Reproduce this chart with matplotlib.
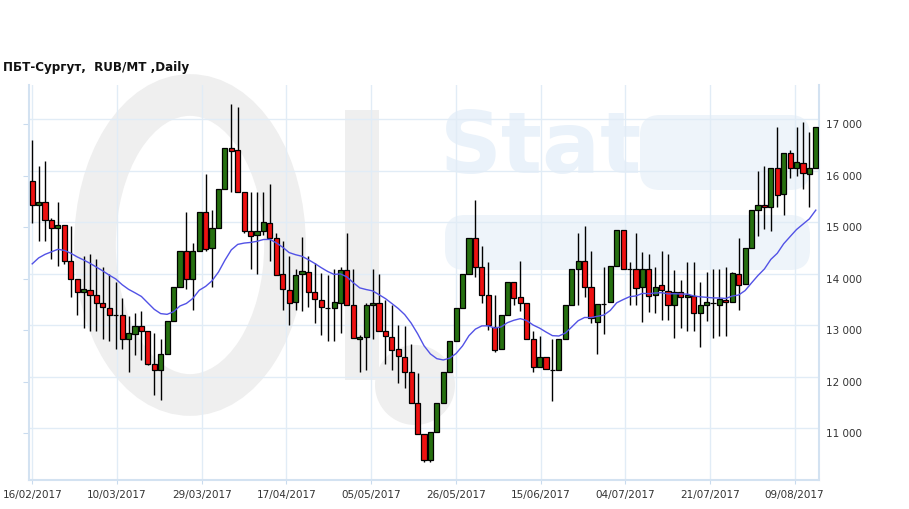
import numpy as np
import matplotlib
matplotlib.use("Agg")
import matplotlib.pyplot as plt
from matplotlib.patches import Ellipse, Rectangle, FancyBboxPatch

title = "ПБТ-Сургут,  RUB/MT ,Daily"
date_labels = ["16/02/2017", "10/03/2017", "29/03/2017", "17/04/2017", "05/05/2017",
               "26/05/2017", "15/06/2017", "04/07/2017", "21/07/2017", "09/08/2017"]

opens = [15900, 15430, 15485, 15135, 14990, 15040, 14340, 13990, 13740, 13775,
         13680, 13525, 13425, 13300, 13290, 12825, 12920, 13080, 12980, 12340,
         12225, 12535, 13175, 13835, 14535, 13990, 14535, 15290, 14590, 14995,
         15740, 16535, 16495, 15680, 14935, 14845, 14935, 15085, 14785, 14085,
         13780, 13540, 14095, 14125, 13740, 13580, 13435, 13440, 13525, 14180,
         13490, 12825, 12875, 13485, 13525, 12980, 12875, 12630, 12475, 12185,
         11580, 10980, 10475, 11030, 11580, 12185, 12785, 13425, 14085, 14785,
         14235, 13680, 13070, 12630, 13290, 13930, 13645, 13525, 12825, 12280,
         12475, 12230, 12220, 12825, 13485, 14185, 14345, 13835, 13170, 13515,
         13540, 14240, 14940, 14185, 14185, 13835, 14185, 13680, 13885, 13770,
         13487, 13748, 13641, 13673, 13330, 13492, 13524, 13492, 13589, 13543,
         14094, 13895, 14592, 15332, 15430, 15388, 16145, 15640, 16436, 16145,
         16242, 16032, 16145]

highs = [16700, 16190, 16290, 15175, 15485, 15050, 15030, 13990, 14440, 14480,
         14380, 14235, 14095, 13940, 13635, 13280, 13330, 13380, 12990, 12940,
         12830, 13175, 13835, 14535, 15290, 14690, 15290, 16035, 15335, 15740,
         16535, 17390, 17335, 15680, 15680, 15680, 15680, 15835, 14890, 14730,
         14450, 14185, 14820, 14440, 14300, 14105, 14075, 14185, 14235, 14885,
         14185, 12900, 13525, 14185, 14090, 13590, 13490, 13100, 13085, 12735,
         12180, 10990, 11020, 11580, 12185, 12785, 13425, 14085, 14785, 15530,
         14635, 14335, 13680, 13290, 13930, 13930, 14345, 13525, 12995, 12895,
         12475, 12830, 12825, 13485, 14185, 14885, 15030, 14540, 13505, 14225,
         14240, 14940, 14940, 14335, 14885, 14525, 14475, 14235, 14540, 14480,
         14170, 13975, 14333, 14333, 13945, 14139, 14184, 14184, 14236, 14126,
         14786, 14592, 15332, 16093, 16185, 16145, 16941, 16436, 16501, 16941,
         17038, 16844, 16941]

lows = [15090, 14740, 14740, 14380, 14240, 14290, 13640, 13290, 13040, 12990,
        12990, 12830, 12785, 12640, 12640, 12185, 12520, 12430, 12330, 11740,
        11650, 12535, 13175, 13835, 13795, 13395, 14535, 14535, 13835, 14995,
        15740, 15690, 15680, 14895, 14190, 14085, 14845, 14345, 14070, 13395,
        13100, 13395, 13380, 13445, 13150, 12900, 12790, 12800, 12940, 13490,
        12845, 12190, 12230, 12840, 12980, 12345, 12230, 11985, 11885, 11580,
        10985, 10440, 10440, 11030, 11580, 12185, 12785, 13425, 14085, 14040,
        13535, 13005, 12585, 12630, 13290, 13490, 13380, 12825, 12185, 12280,
        12240, 11635, 12220, 12825, 13485, 13485, 13640, 13135, 12535, 12930,
        13540, 14240, 14185, 13490, 13490, 13155, 13360, 13330, 13200, 13200,
        12845, 13052, 12993, 12993, 12683, 13188, 12844, 12890, 12890, 13543,
        13395, 13895, 14592, 14835, 14970, 14935, 15400, 15239, 15960, 15990,
        15740, 15388, 16145]

closes = [15430, 15500, 15135, 14990, 15040, 14340, 13990, 13740, 13800, 13680,
          13525, 13445, 13290, 13305, 12825, 12940, 13090, 12980, 12340, 12225,
          12535, 13175, 13835, 14535, 13990, 14535, 15290, 14570, 14995, 15740,
          16535, 16480, 15680, 14935, 14825, 14935, 15095, 14785, 14070, 13795,
          13525, 14075, 14145, 13740, 13600, 13445, 13440, 13545, 14180, 13490,
          12845, 12875, 13485, 13525, 12980, 12895, 12610, 12495, 12185, 11580,
          10985, 10475, 11020, 11580, 12185, 12785, 13425, 14085, 14785, 14235,
          13680, 13105, 12620, 13290, 13930, 13635, 13525, 12825, 12280, 12475,
          12245, 12230, 12825, 13485, 14185, 14345, 13845, 13235, 13505, 13520,
          14240, 14940, 14185, 14185, 13815, 14185, 13660, 13848, 13783, 13487,
          13745, 13645, 13686, 13330, 13492, 13543, 13526, 13602, 13543, 14106,
          13880, 14592, 15332, 15430, 15388, 16145, 15618, 16436, 16145, 16262,
          16048, 16145, 16941]

ema_start = 14290   # value of the moving average at the first candle
ema_span = 20

o = np.array(opens, float)
h = np.array(highs, float)
l = np.array(lows, float)
c = np.array(closes, float)
n = len(o)
x = np.arange(n)

alpha = 2.0 / (ema_span + 1)
ema = np.empty(n)
ema[0] = ema_start
for i in range(1, n):
    ema[i] = ema[i - 1] + alpha * (c[i] - ema[i - 1])

W, H = 909, 509
fig = plt.figure(figsize=(W / 100, H / 100), dpi=100)
fig.patch.set_facecolor("white")

# faint background watermark ("Oil Stat" logo), drawn in pixel coordinates
bg = fig.add_axes([0, 0, 1, 1])
bg.set_xlim(0, W)
bg.set_ylim(H, 0)
bg.axis("off")
bg.set_zorder(0)
gray_wm = "#efefef"
blue_wm = "#eaf2fa"
bg.add_patch(Ellipse((190, 245), 190, 300, fill=False, lw=30, edgecolor=gray_wm))
bg.add_patch(Rectangle((345, 110), 34, 270, color=gray_wm, lw=0))
bg.add_patch(Ellipse((415, 385), 80, 80, color=gray_wm, lw=0))
bg.add_patch(FancyBboxPatch((445, 215), 365, 55, boxstyle="round,pad=0,rounding_size=20",
                            color="#eef4fa", lw=0))
bg.add_patch(FancyBboxPatch((640, 115), 170, 75, boxstyle="round,pad=0,rounding_size=20",
                            color="#eef4fa", lw=0))
bg.text(440, 150, "Stat", fontsize=62, fontweight="bold", color=blue_wm,
        va="center", ha="left")

ax = fig.add_axes([29 / W, 1 - 480 / H, 790 / W, (480 - 85) / H])
ax.set_zorder(1)
ax.patch.set_alpha(0)
ax.set_xlim(-0.5, n - 0.5)
ax.set_ylim(10093, 17763)

grid_color = "#e1ecf6"
yt = np.arange(11000, 17001, 1000)
for v in yt:
    ax.axhline(v + 97, color=grid_color, lw=1, zorder=0)
label_pos = np.arange(len(date_labels)) * 13.19
for p in label_pos:
    ax.axvline(p, color=grid_color, lw=1, zorder=0)

up = c >= o
colors = np.where(up, "#267010", "#ee1111")
ax.vlines(x, l, h, color="black", lw=1, zorder=2)
ax.bar(x, c - o, bottom=o, width=0.8, color=colors, edgecolor="black",
       linewidth=0.9, zorder=3)
ax.plot(x, ema, color="#5252e6", lw=1, zorder=4)

ax.set_yticks(yt)
ax.set_yticklabels([f"{v:,}".replace(",", " ") for v in yt])
ax.tick_params(axis="y", left=True, right=False, labelleft=False, labelright=True,
               length=4, direction="out", color="#c9dbee", labelsize=7.5,
               labelcolor="#333333", pad=1)
ax.set_xticks(label_pos)
ax.set_xticklabels(date_labels)
ax.tick_params(axis="x", length=3, color="#c9dbee", labelsize=7.5,
               labelcolor="#333333", pad=4)

for s in ["left", "bottom", "right"]:
    ax.spines[s].set_color("#d3e2f1")
    ax.spines[s].set_linewidth(1.5)
ax.spines["top"].set_visible(False)

fig.text(3 / W, 1 - 68 / H, title, fontsize=8.6, fontweight="bold",
         va="center", ha="left", color="#111111")

fig.savefig("out.png", dpi=100, facecolor="white")
